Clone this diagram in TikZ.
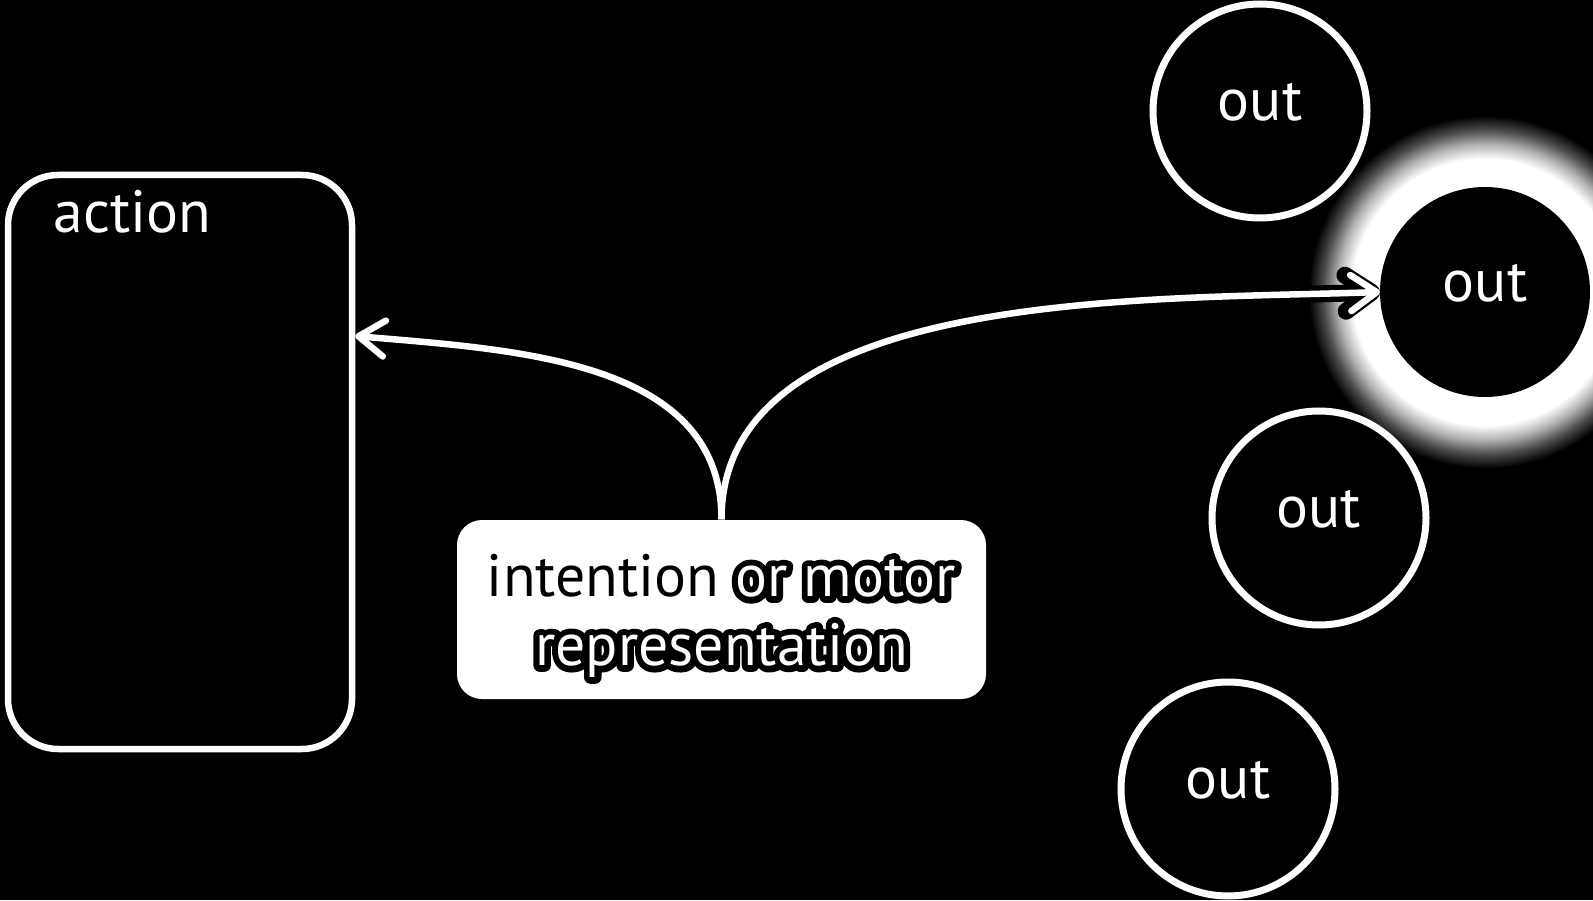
\documentclass[tikz,border=0pt]{standalone}
\usepackage{fontspec}
\setmainfont{PT Sans}
\usetikzlibrary{arrows.meta, calc, positioning}
% white text with a dark outline (stroked copy underneath)
\newcommand{\glowtext}[1]{\rlap{\special{pdf:literal direct 1 Tr 3.6 w 1 j 0 G}#1\special{pdf:literal direct 0 Tr}}\textcolor{white}{#1}}
\pgfdeclareradialshading{outglow}{\pgfpoint{0cm}{0cm}}{color(0bp)=(white); color(18.5bp)=(white);
  color(20.5bp)=(white!70!black); color(22.5bp)=(white!30!black); color(24.5bp)=(black); color(50bp)=(black)}

\begin{document}
\begin{tikzpicture}[every node/.style={font=\fontsize{17}{19.6}\selectfont},
  actionbox/.style={draw=white, line width=0.065cm, rounded corners=0.5cm,
                    minimum width=3.44cm, minimum height=5.74cm},
  outnode/.style={circle, draw=white, line width=0.07cm, fill=black, text=white,
                  minimum size=2.14cm, inner sep=0pt, text depth=0.18cm},
  link/.style={-{Straight Barb[length=0.26cm, width=0.36cm, round]}, line width=0.065cm, white},
  halo/.style={link, black, line width=0.17cm}]
  % background and frame
  \fill[black] (0,0) rectangle (15.93,9);
  \useasboundingbox (0,0) rectangle (15.93,9);
  % glow behind the chosen outcome
  \coordinate (glowc) at (14.85,6.08);
  \shade[shading=outglow] (glowc) circle (1.8cm);
  % action
  \node[actionbox] (action) at (1.80,4.38) {};
  \node[anchor=base west, text=white, inner sep=0pt] (actionlabel) at (0.53,6.68) {action};
  % outcomes
  \node[outnode] (out1) at (12.60,7.89) {out};
  \node[outnode, draw=none, minimum size=2.10cm, outer sep=0pt] (out2) at (glowc) {out};
  \node[outnode] (out3) at (13.19,3.82) {out};
  \node[outnode] (out4) at (12.28,1.11) {out};
  % intention
  \node[fill=white, rounded corners=0.25cm, minimum width=5.29cm, minimum height=1.79cm,
        align=center, text=black] (intention) at (7.215,2.905)
        {\rule{0pt}{0.55cm}intention \glowtext{or motor}\\\glowtext{representation}};
  % links
  \draw[halo] (intention.north) to[out=90, in=182, looseness=0.85] (out2.west);
  \draw[link] (intention.north) to[out=90, in=182, looseness=0.85] (out2.west);
  \draw[link] (intention.north) to[out=90, in=-5] ([yshift=1.26cm]action.east);
\end{tikzpicture}
\end{document}
